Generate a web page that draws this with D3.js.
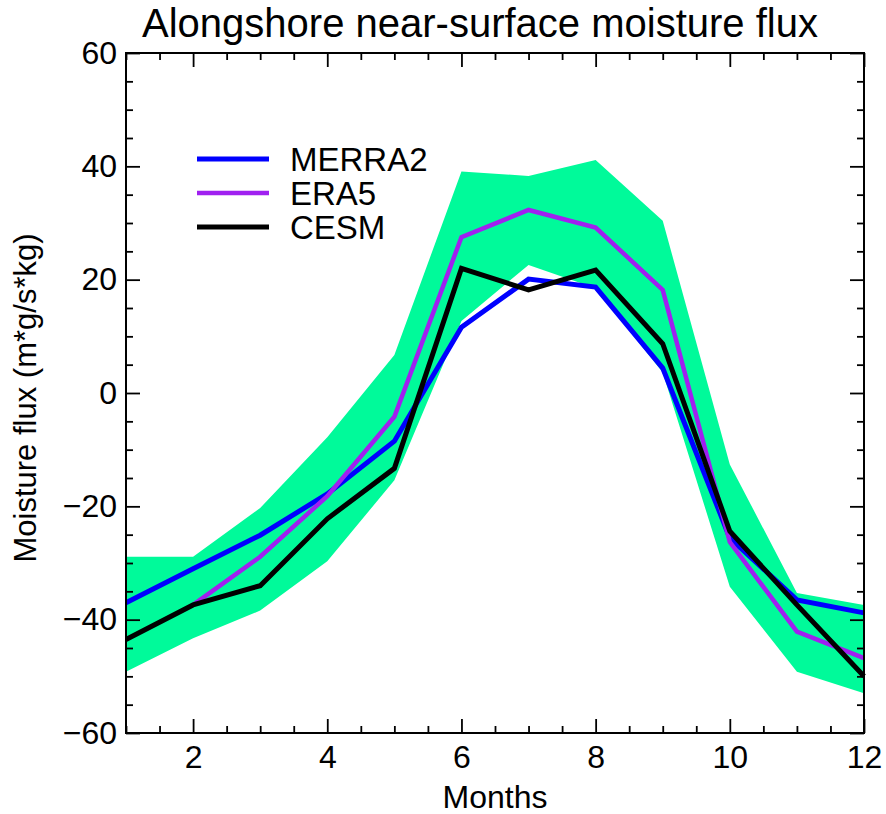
<!DOCTYPE html>
<html>
<head>
<meta charset="utf-8">
<script src="https://cdn.jsdelivr.net/npm/d3@7"></script>
<style>
  body { margin: 0; background: #fff; }
  text { font-family: "Liberation Sans", Arial, sans-serif; fill: #000; }
</style>
</head>
<body>
<svg width="886" height="814"></svg>
<script>
// monthly values
var months = [1, 2, 3, 4, 5, 6, 7, 8, 9, 10, 11, 12]
var merra2 = [-37.0, -31.0, -25.1, -17.8, -8.5, 11.6, 20.1, 18.7, 4.4, -25.6, -36.5, -38.8]
var era5 = [null, -37.4, -28.9, -18.2, -4.2, 27.5, 32.3, 29.2, 18.2, -26.3, -42.1, -46.8]
var cesm = [-43.5, -37.4, -34.0, -22.2, -13.3, 22.0, 18.2, 21.7, 8.7, -24.4, -37.4, -50.0]
var bandHigh = [-28.9, -28.9, -20.3, -7.8, 6.7, 39.1, 38.3, 41.1, 30.4, -12.6, -35.3, -37.4]
var bandLow = [-49.2, -43.3, -38.4, -29.7, -15.4, 12.7, 22.6, 18.5, 3.6, -34.2, -49.2, -53.0]

var seriesNames = ['MERRA2', 'ERA5', 'CESM']
var seriesColors = ['#0000ff', '#a020f0', '#000000']
var yMajor = [-60, -40, -20, 0, 20, 40, 60]
var xMajor = [2, 4, 6, 8, 10, 12]

var svg = d3.select('svg')
var pLeft = 126, pRight = 864, pTop = 53, pBottom = 733

var x = d3.scaleLinear().domain([1, 12]).range([pLeft, pRight])
var y = d3.scaleLinear().domain([-60, 60]).range([pBottom, pTop])

// shaded spread
var area = d3.area()
  .x((d, i) => x(months[i]))
  .y0((d, i) => y(bandLow[i]))
  .y1((d) => y(d))
svg.append('path')
  .datum(bandHigh)
  .attr('d', area)
  .attr('fill', '#00fa9a')

var line = d3.line()
  .defined((d) => d != null)
  .x((d, i) => x(months[i]))
  .y((d) => y(d))

var allSeries = [merra2, era5, cesm]
var widths = [5, 4.5, 5]
allSeries.forEach((s, k) => {
  svg.append('path')
    .datum(s)
    .attr('d', line)
    .attr('fill', 'none')
    .attr('stroke', seriesColors[k])
    .attr('stroke-width', widths[k])
    .attr('stroke-linejoin', 'miter')
})

// axes, ticks pointing inward on all four sides
var yMinor = d3.range(-60, 61, 5).filter((v) => v % 20 != 0)
var xMinor = d3.range(1, 12.01, 0.5).filter((v) => v % 2 != 0)

function axisStyle (g) {
  g.select('.domain').remove()
  g.selectAll('line').attr('stroke', '#000').attr('stroke-width', 1.8)
}

svg.append('g').attr('transform', `translate(${pLeft},0)`)
  .call(d3.axisLeft(y).tickValues(yMajor).tickSize(-14).tickPadding(9)
    .tickFormat((d) => d < 0 ? '\u2212' + Math.abs(d) : d))
  .call(axisStyle)
  .selectAll('text').style('font-size', '32px').style('font-family', 'Liberation Sans')
svg.append('g').attr('transform', `translate(${pLeft},0)`)
  .call(d3.axisLeft(y).tickValues(yMinor).tickSize(-7).tickFormat(''))
  .call(axisStyle)
svg.append('g').attr('transform', `translate(${pRight},0)`)
  .call(d3.axisRight(y).tickValues(yMajor).tickSize(-14).tickFormat(''))
  .call(axisStyle)
svg.append('g').attr('transform', `translate(${pRight},0)`)
  .call(d3.axisRight(y).tickValues(yMinor).tickSize(-7).tickFormat(''))
  .call(axisStyle)

svg.append('g').attr('transform', `translate(0,${pBottom})`)
  .call(d3.axisBottom(x).tickValues(xMajor).tickSize(-14).tickPadding(12))
  .call(axisStyle)
  .selectAll('text').style('font-size', '32px').style('font-family', 'Liberation Sans')
svg.append('g').attr('transform', `translate(0,${pBottom})`)
  .call(d3.axisBottom(x).tickValues(xMinor).tickSize(-7).tickFormat(''))
  .call(axisStyle)
svg.append('g').attr('transform', `translate(0,${pTop})`)
  .call(d3.axisTop(x).tickValues(xMajor).tickSize(-14).tickFormat(''))
  .call(axisStyle)
svg.append('g').attr('transform', `translate(0,${pTop})`)
  .call(d3.axisTop(x).tickValues(xMinor).tickSize(-7).tickFormat(''))
  .call(axisStyle)

svg.append('rect')
  .attr('x', pLeft).attr('y', pTop)
  .attr('width', pRight - pLeft).attr('height', pBottom - pTop)
  .attr('fill', 'none').attr('stroke', '#000').attr('stroke-width', 2)

// titles
svg.append('text')
  .attr('x', 480).attr('y', 37)
  .attr('text-anchor', 'middle')
  .style('font-size', '40px')
  .text('Alongshore near-surface moisture flux')
svg.append('text')
  .attr('x', 495).attr('y', 808)
  .attr('text-anchor', 'middle')
  .style('font-size', '32px')
  .text('Months')
svg.append('text')
  .attr('transform', 'translate(36,398) rotate(-90)')
  .attr('text-anchor', 'middle')
  .style('font-size', '31px')
  .text('Moisture flux (m*g/s*kg)')

// legend
var legendY = [159, 193, 227]
seriesNames.forEach((name, k) => {
  svg.append('line')
    .attr('x1', 197).attr('x2', 269)
    .attr('y1', legendY[k]).attr('y2', legendY[k])
    .attr('stroke', seriesColors[k]).attr('stroke-width', widths[k])
  svg.append('text')
    .attr('x', 290).attr('y', legendY[k])
    .attr('dy', '0.36em')
    .style('font-size', '33px')
    .text(name)
})
</script>
</body>
</html>
